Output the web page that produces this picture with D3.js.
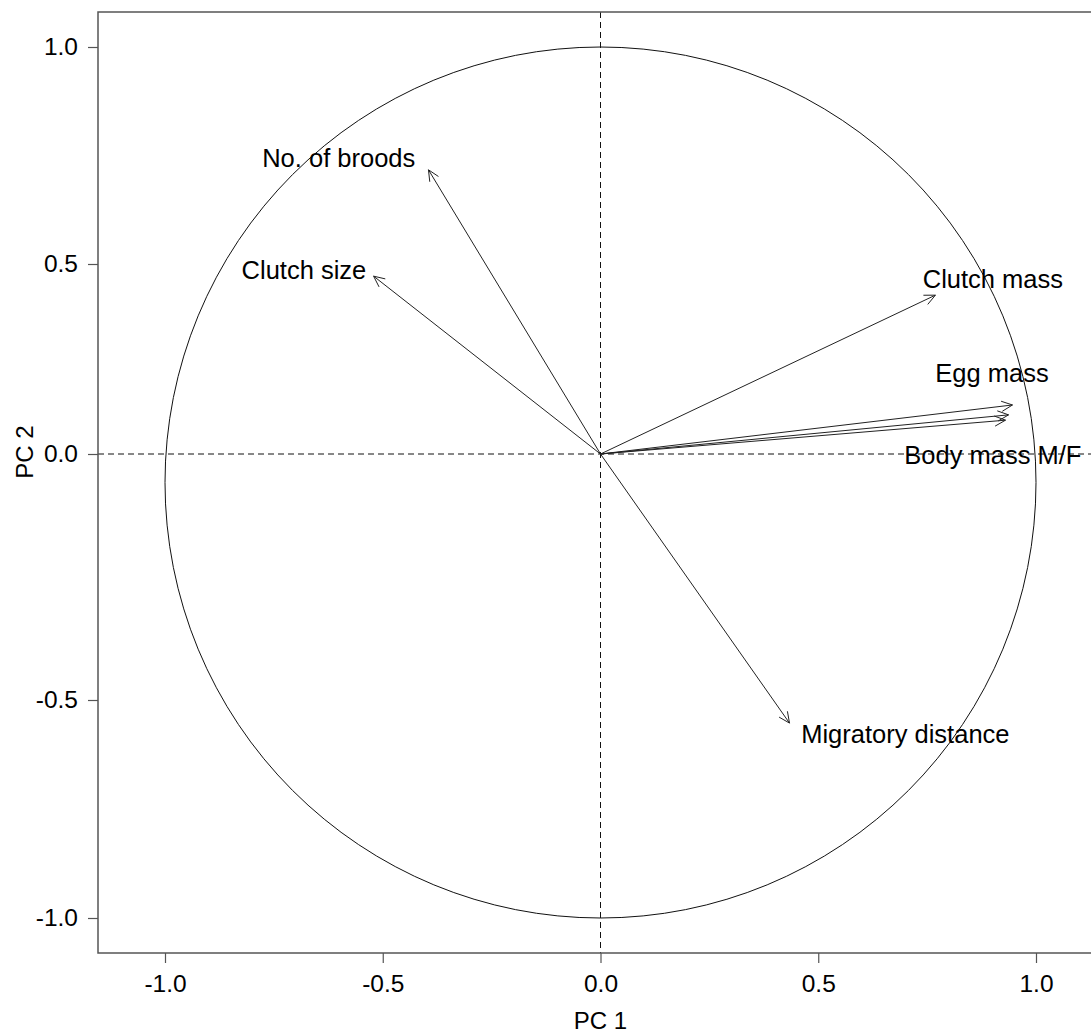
<!DOCTYPE html>
<html>
<head>
  <meta charset="utf-8">
  <title>PCA correlation circle</title>
  <script src="https://d3js.org/d3.v7.min.js"></script>
  <style>
    body { margin: 0; background: #fff; }
    svg text { font-family: "Liberation Sans", Arial, sans-serif; fill: #000; }
  </style>
</head>
<body>
  <div id="chart"></div>

  <script type="text/javascript">

    // variable loadings (arrow tips) on PC 1 / PC 2
    var variables = ["No. of broods", "Clutch size", "Clutch mass", "Egg mass", "Body mass M", "Body mass F", "Migratory distance"];
    var pc1 = [-0.395, -0.521, 0.769, 0.946, 0.937, 0.930, 0.434];
    var pc2 = [0.717, 0.468, 0.418, 0.129, 0.103, 0.089, -0.553];

    // text labels and where they sit (data units)
    var labels = ["No. of broods", "Clutch size", "Clutch mass", "Egg mass", "Body mass M/F", "Migratory distance"];
    var labelX = [-0.601, -0.681, 0.901, 0.899, 0.901, 0.700];
    var labelY = [0.745, 0.486, 0.462, 0.214, -0.002, -0.578];

    var xTicks = [-1.0, -0.5, 0.0, 0.5, 1.0];
    var yTicks = [-1.0, -0.5, 0.0, 0.5, 1.0];

    var W = 1091, H = 1036;
    // plot frame
    var frame = {left: 98, top: 12, right: 1100, bottom: 953};

    var x = d3.scaleLinear().domain([-1, 1]).range([165, 1036]);
    // the picture's y axis is not evenly spaced, keep its tick positions
    var y = d3.scaleLinear().domain([-1, -0.5, 0, 0.5, 1]).range([918, 700, 454, 264, 47]);

    var svg = d3.select('#chart')
                .append('svg')
                  .attr('width', W)
                  .attr('height', H);

    svg.append('rect')
        .attr('width', W).attr('height', H)
        .attr('fill', '#fff');

    // unit circle
    svg.append('ellipse')
        .attr('cx', x(0))
        .attr('cy', (y(1) + y(-1)) / 2)
        .attr('rx', (x(1) - x(-1)) / 2)
        .attr('ry', (y(-1) - y(1)) / 2)
        .attr('fill', 'none')
        .attr('stroke', '#111')
        .attr('stroke-width', 1);

    // dashed zero lines
    svg.append('line')
        .attr('x1', x(0)).attr('x2', x(0))
        .attr('y1', frame.top).attr('y2', frame.bottom)
        .attr('stroke', '#111')
        .attr('stroke-dasharray', '6,4');

    svg.append('line')
        .attr('x1', frame.left).attr('x2', frame.right)
        .attr('y1', y(0)).attr('y2', y(0))
        .attr('stroke', '#111')
        .attr('stroke-dasharray', '6,4');

    // arrows
    var arrows = svg.append('g').attr('class', 'arrows');
    var headLen = 12, headAng = 25 * Math.PI / 180;

    variables.forEach(function(v, i) {
      var x0 = x(0), y0 = y(0);
      var x1 = x(pc1[i]), y1 = y(pc2[i]);
      var a = Math.atan2(y1 - y0, x1 - x0);

      arrows.append('line')
          .attr('x1', x0).attr('y1', y0)
          .attr('x2', x1).attr('y2', y1)
          .attr('stroke', '#222')
          .attr('stroke-width', 1);

      var p1 = [x1 - headLen * Math.cos(a - headAng), y1 - headLen * Math.sin(a - headAng)];
      var p2 = [x1 - headLen * Math.cos(a + headAng), y1 - headLen * Math.sin(a + headAng)];
      arrows.append('path')
          .attr('d', 'M' + p1[0] + ',' + p1[1] + 'L' + x1 + ',' + y1 + 'L' + p2[0] + ',' + p2[1])
          .attr('fill', 'none')
          .attr('stroke', '#222')
          .attr('stroke-width', 1);
    });

    // labels
    svg.selectAll('text.var-label')
        .data(labels)
        .enter().append('text')
          .attr('class', 'var-label')
          .attr('x', function(d, i) { return x(labelX[i]); })
          .attr('y', function(d, i) { return y(labelY[i]); })
          .attr('dy', '0.36em')
          .attr('text-anchor', 'middle')
          .style('font-size', '25.5px')
          .text(function(d) { return d; });

    // frame box
    svg.append('rect')
        .attr('x', frame.left).attr('y', frame.top)
        .attr('width', frame.right - frame.left)
        .attr('height', frame.bottom - frame.top)
        .attr('fill', 'none')
        .attr('stroke', '#555')
        .attr('stroke-width', 1.5);

    // axes
    var xAxis = d3.axisBottom(x)
        .tickValues(xTicks)
        .tickSize(10)
        .tickPadding(12)
        .tickFormat(d3.format('.1f'));

    var yAxis = d3.axisLeft(y)
        .tickValues(yTicks)
        .tickSize(10)
        .tickPadding(10)
        .tickFormat(d3.format('.1f'));

    var gx = svg.append('g')
        .attr('transform', 'translate(0,' + frame.bottom + ')')
        .call(xAxis);

    var gy = svg.append('g')
        .attr('transform', 'translate(' + frame.left + ',0)')
        .call(yAxis);

    [gx, gy].forEach(function(g) {
      g.select('.domain').remove();
      g.selectAll('.tick line').attr('stroke', '#555').attr('stroke-width', 1.2);
      g.selectAll('.tick text')
        .style('font-size', '24.5px')
        .style('font-family', '"Liberation Sans", Arial, sans-serif')
        .attr('fill', '#000')
        .text(function(d) { return d3.format('.1f')(d).replace('−', '-'); });
    });

    // axis titles
    svg.append('text')
        .attr('x', x(0))
        .attr('y', 1020)
        .attr('dy', '0.36em')
        .attr('text-anchor', 'middle')
        .style('font-size', '24px')
        .text('PC 1');

    svg.append('text')
        .attr('transform', 'translate(24,' + 452 + ') rotate(-90)')
        .attr('dy', '0.36em')
        .attr('text-anchor', 'middle')
        .style('font-size', '24px')
        .text('PC 2');

  </script>
</body>
</html>
